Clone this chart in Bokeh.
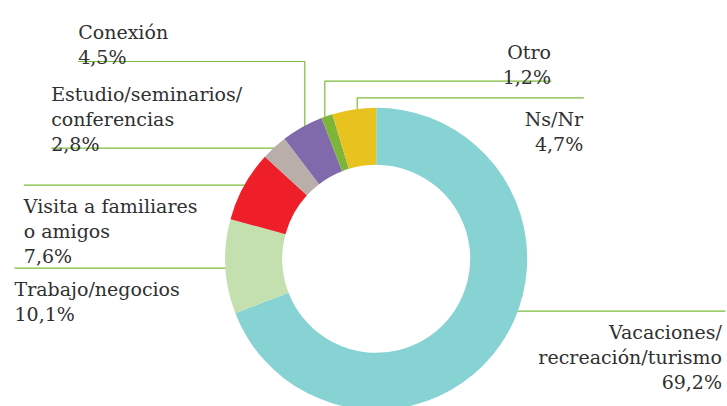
import math
from bokeh.plotting import figure
from bokeh.models import ColumnDataSource, Range1d
from bokeh.embed import file_html
from bokeh.resources import INLINE
from bokeh.core.properties import value

# ---------------- data ----------------
categories = ["Vacaciones/recreación/turismo", "Trabajo/negocios",
              "Visita a familiares o amigos", "Estudio/seminarios/conferencias",
              "Conexión", "Otro", "Ns/Nr"]
shares = [69.2, 10.1, 7.6, 2.8, 4.5, 1.2, 4.7]
label_lines = [["Vacaciones/", "recreación/turismo"],
               ["Trabajo/negocios"],
               ["Visita a familiares", "o amigos"],
               ["Estudio/seminarios/", "conferencias"],
               ["Conexión"],
               ["Otro"],
               ["Ns/Nr"]]
colors = ["#87D2D2", "#C3E0AE", "#EE1F28", "#B9AEA9", "#816AAC", "#7DB53B", "#E8C320"]

# ---------------- layout ----------------
W, H = 727, 406
CX, CY_PX = 375.7, 258.3
R_OUT, R_IN = 151, 94
LINE_H = 25
FONT = value("DejaVu Serif")
FSIZE = value("19px")
TXT_COLOR = "#303030"
LEADER_COLOR = "#7DBB3C"

# per category: (text x, align, first baseline y px, leader kind, leader params)
label_layout = [
    (721.5, "right", 331.0, "h_right", (310.7, 725.0)),
    (14.0, "left", 288.3, "h_left", (267.7, 14.0)),
    (23.3, "left", 205.0, "h_left", (184.7, 23.3)),
    (50.7, "left", 93.5, "h_left", (147.7, 50.7)),
    (77.7, "left", 31.5, "hv", (61.0, 77.7, 304.3)),
    (550.5, "right", 51.7, "hv", (80.7, 550.7, 324.3)),
    (582.7, "right", 118.3, "hv", (97.3, 583.3, 356.7)),
]

def Y(py):
    return H - py

p = figure(width=W, height=H, output_backend="svg", toolbar_location=None,
           x_range=Range1d(0, W), y_range=Range1d(0, H), min_border=0)
p.axis.visible = False
p.grid.visible = False
p.outline_line_color = None
p.background_fill_color = "white"

# leaders
xs, ys = [], []
for (tx, al, by, kind, prm) in label_layout:
    if kind == "h_right":
        ly, x0 = prm
        dy = ly - CY_PX
        xe = CX + math.sqrt(R_OUT**2 - dy**2) - 2
        xs.append([x0, xe]); ys.append([Y(ly), Y(ly)])
    elif kind == "h_left":
        ly, x0 = prm
        dy = ly - CY_PX
        xe = CX - math.sqrt(R_OUT**2 - dy**2) + 2
        xs.append([x0, xe]); ys.append([Y(ly), Y(ly)])
    else:
        ly, x0, xv = prm
        dx = xv - CX
        ye = CY_PX - math.sqrt(R_OUT**2 - dx**2) + 2
        xs.append([x0, xv, xv]); ys.append([Y(ly), Y(ly), Y(ye)])
p.multi_line(xs=xs, ys=ys, line_color=LEADER_COLOR, line_width=1.2)

# donut
total = sum(shares)
starts, ends = [], []
cum = 0.0
for v in shares:
    a0 = math.radians(90 - 360 * cum / total)
    cum += v
    a1 = math.radians(90 - 360 * cum / total)
    starts.append(a1)
    ends.append(a0)
src = ColumnDataSource(dict(cat=categories, start=starts, end=ends, color=colors))
p.annular_wedge(x=CX, y=Y(CY_PX), inner_radius=R_IN, outer_radius=R_OUT,
                start_angle="start", end_angle="end", fill_color="color",
                line_color=None, source=src)

# labels
for align in ("left", "right"):
    tx_, ty_, tt_ = [], [], []
    for i, (tx, al, by, kind, prm) in enumerate(label_layout):
        if al != align:
            continue
        lines = label_lines[i] + [f"{shares[i]:.1f}".replace(".", ",") + "%"]
        for k, t in enumerate(lines):
            tx_.append(tx); ty_.append(Y(by + k * LINE_H)); tt_.append(t)
    p.text(x=tx_, y=ty_, text=tt_, text_align=align, text_baseline="alphabetic",
           text_font=FONT, text_font_size=FSIZE, text_color=TXT_COLOR)

open("out.html", "w").write(file_html(p, INLINE))
